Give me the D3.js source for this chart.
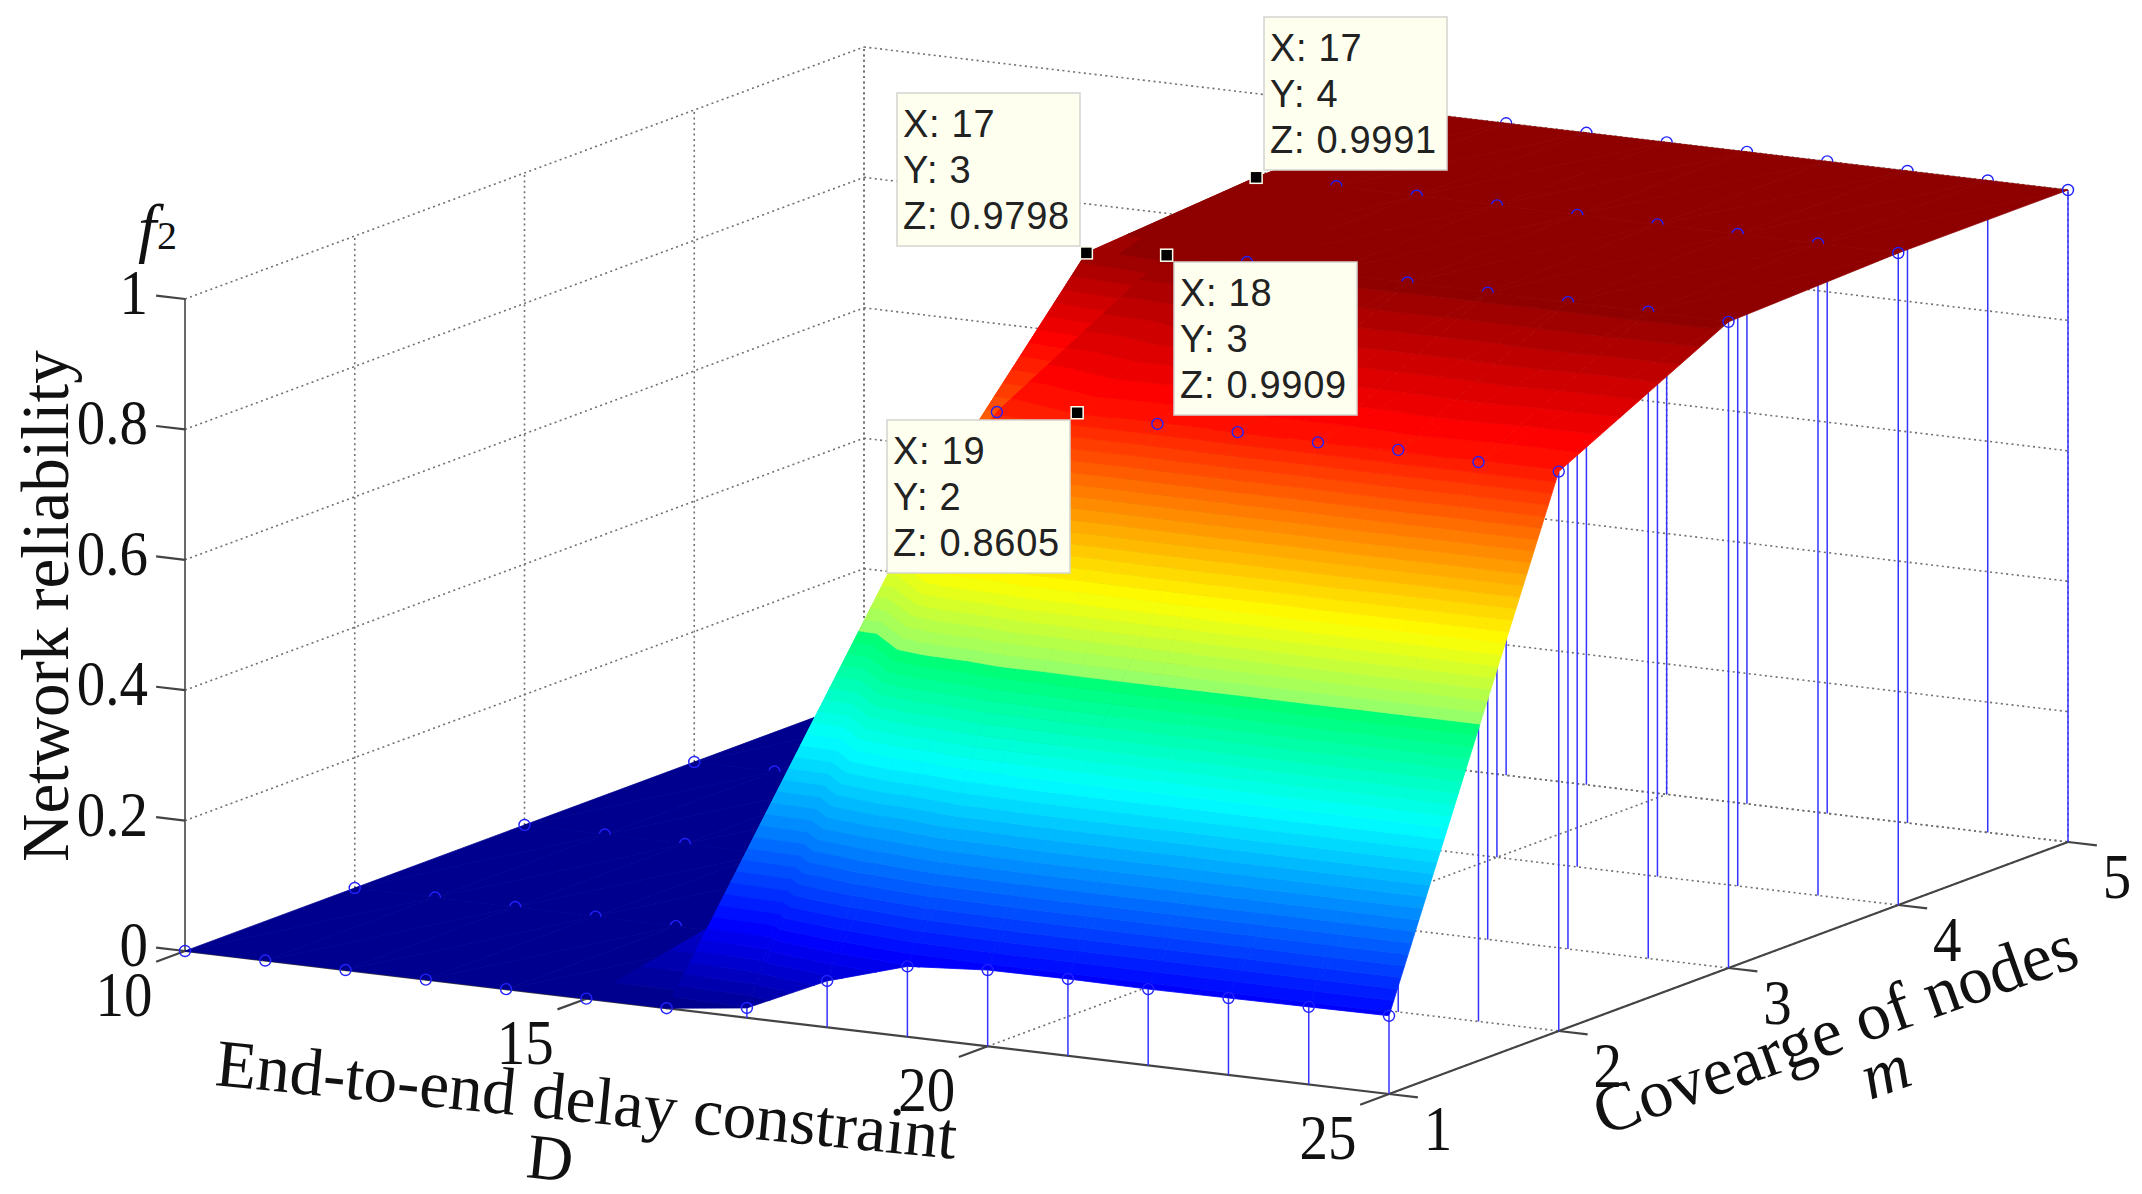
<!DOCTYPE html>
<html lang="en">
<head>
    <meta charset="UTF-8">
    <script src="https://d3js.org/d3.v7.min.js"></script>
    <title>Network reliability surface</title>
    <style>
        body { margin: 0; background: white; }
        text { font-family: "Liberation Serif", serif; fill: #111; }
        .tip text { font-family: "Liberation Sans", sans-serif; font-size: 38px; letter-spacing: 0.7px; fill: #222; }
    </style>
</head>
<body>
<div id="chart"></div>
<script>
    // data
    var delays = [10, 11, 12, 13, 14, 15, 16, 17, 18, 19, 20, 21, 22, 23, 24, 25];
    var coverages = [1, 2, 3, 4, 5];
    var rowM1 = [0, 0, 0, 0, 0, 0, 0, 0.015, 0.071, 0.108, 0.117, 0.118, 0.117, 0.118, 0.119, 0.12];
    var rowM2 = [0, 0, 0, 0, 0, 0, 0.14, 0.67, 0.847, 0.8605, 0.858, 0.86, 0.859, 0.862, 0.858, 0.858];
    var rowM3 = [0, 0, 0, 0, 0, 0.1, 0.55, 0.9798, 0.9909, 0.995, 0.994, 0.993, 0.992, 0.992, 0.992, 0.991];
    var rowM4 = [0, 0, 0, 0, 0.05, 0.4, 0.85, 0.9991, 1, 1, 1, 1, 1, 1, 1, 1];
    var rowM5 = [0, 0, 0, 0, 0.1, 0.5, 0.9, 1, 1, 1, 1, 1, 1, 1, 1, 1];
    var rows = [rowM1, rowM2, rowM3, rowM4, rowM5];

    var xTicks = [10, 15, 20, 25];
    var yTicks = [1, 2, 3, 4, 5];
    var zTicks = [0, 0.2, 0.4, 0.6, 0.8, 1];

    var tipX = [17, 17, 18, 19];
    var tipY = [4, 3, 3, 2];
    var tipZ = [0.9991, 0.9798, 0.9909, 0.8605];
    var tipBoxLeft = [1264, 897, 1174, 887];
    var tipBoxTop = [17, 93, 262, 420];

    var width = 2142, height = 1194;
    var originX = 185, originY = 951;

    // oblique 3d projection, one linear scale per screen contribution
    var xToLeft = d3.scaleLinear().domain([10, 25]).range([0, 1204]);
    var xToTop = d3.scaleLinear().domain([10, 25]).range([0, 143]);
    var yToLeft = d3.scaleLinear().domain([1, 5]).range([0, 679]);
    var yToTop = d3.scaleLinear().domain([1, 5]).range([0, -252]);
    var zToTop = d3.scaleLinear().domain([0, 1]).range([0, -652]);

    function project(x, y, z) {
        return [originX + xToLeft(x) + yToLeft(y), originY + xToTop(x) + yToTop(y) + zToTop(z)];
    }

    // the figure's colormap: jet, but red stays off until the green band
    function bandColor(i) {
        var t = (i + 1) / 65;
        var r = t < 0.52 ? 0 : 1.5 - Math.abs(4 * t - 3);
        var g = 1.5 - Math.abs(4 * t - 2);
        var b = 1.5 - Math.abs(4 * t - 1);
        return d3.rgb(255 * Math.min(1, Math.max(0, r)), 255 * Math.min(1, Math.max(0, g)), 255 * Math.min(1, Math.max(0, b))).formatHex();
    }
    var bandCount = 64;
    var bands = d3.range(bandCount).map(bandColor);
    var colorScale = d3.scaleQuantize().domain([0, 1]).range(bands);

    var svg = d3.select("#chart").append("svg")
        .attr("width", width)
        .attr("height", height);

    var lineGen = d3.line();

    function seg(g, a, b) {
        return g.append("path").attr("d", lineGen([project(a[0], a[1], a[2]), project(b[0], b[1], b[2])]));
    }

    // dotted box grid
    var grid = svg.append("g")
        .attr("fill", "none")
        .attr("stroke", "#707070")
        .attr("stroke-width", 1.6)
        .attr("stroke-dasharray", "2 3.4");
    zTicks.forEach(function (z) {
        if (z > 0) seg(grid, [10, 1, z], [10, 5, z]);
        seg(grid, [10, 5, z], [25, 5, z]);
    });
    yTicks.forEach(function (y) {
        if (y > 1) {
            seg(grid, [10, y, 0], [10, y, 1]);
            seg(grid, [10, y, 0], [25, y, 0]);
        }
    });
    xTicks.forEach(function (x) {
        seg(grid, [x, 5, 0], [x, 5, 1]);
        if (x > 10) seg(grid, [x, 1, 0], [x, 5, 0]);
    });

    // solid axes and ticks
    var axes = svg.append("g")
        .attr("fill", "none")
        .attr("stroke", "#444")
        .attr("stroke-width", 2.2);
    seg(axes, [10, 1, 0], [10, 1, 1]).attr("stroke-width", 1.6);
    seg(axes, [10, 1, 0], [25, 1, 0]);
    seg(axes, [25, 1, 0], [25, 5, 0]);
    xTicks.forEach(function (x) { seg(axes, [x, 1, 0], [x, 0.83, 0]); });
    yTicks.forEach(function (y) { seg(axes, [25, y, 0], [25.36, y, 0]); });
    zTicks.forEach(function (z) { seg(axes, [10, 1, z], [9.64, 1, z]); });

    // keep the part of a polygon on one side of a height
    function clipAt(poly, limit, sign) {
        var out = [];
        poly.forEach(function (p, k) {
            var q = poly[(k + 1) % poly.length];
            var dp = sign * (limit - p[2]), dq = sign * (limit - q[2]);
            if (dp >= 0) out.push(p);
            if ((dp > 0 && dq < 0) || (dp < 0 && dq > 0)) {
                var s = dp / (dp - dq);
                out.push([p[0] + s * (q[0] - p[0]), p[1] + s * (q[1] - p[1]), p[2] + s * (q[2] - p[2])]);
            }
        });
        return out;
    }

    var surface = svg.append("g");

    function drawTriangle(tri) {
        var low = d3.min(tri, function (p) { return p[2]; });
        var high = d3.max(tri, function (p) { return p[2]; });
        var first = Math.min(bandCount - 1, Math.floor(low * bandCount));
        var last = Math.min(bandCount - 1, Math.floor(high * bandCount));
        for (var b = first; b <= last; b++) {
            var poly = tri;
            if (b < bandCount - 1) poly = clipAt(poly, (b + 1) / bandCount, 1);
            poly = clipAt(poly, b / bandCount, -1);
            if (poly.length < 3) continue;
            var color = colorScale((b + 0.5) / bandCount);
            surface.append("path")
                .attr("d", lineGen(poly.map(function (p) { return project(p[0], p[1], p[2]); })) + "Z")
                .attr("fill", color)
                .attr("stroke", color)
                .attr("stroke-width", 0.8)
                .attr("stroke-linejoin", "round");
        }
    }

    function drawCircle(g, p) {
        g.append("circle")
            .attr("cx", p[0])
            .attr("cy", p[1])
            .attr("r", 5.5)
            .attr("fill", "none")
            .attr("stroke", "#2222ff")
            .attr("stroke-width", 1.4);
    }

    // back to front: far rows first, each followed by its own stems
    var raised = [];
    for (var j = coverages.length - 1; j >= 0; j--) {
        if (j < coverages.length - 1) {
            for (var i = 0; i < delays.length - 1; i++) {
                var a = [delays[i], coverages[j], rows[j][i]];
                var b = [delays[i + 1], coverages[j], rows[j][i + 1]];
                var c = [delays[i + 1], coverages[j + 1], rows[j + 1][i + 1]];
                var d = [delays[i], coverages[j + 1], rows[j + 1][i]];
                drawTriangle([a, c, d]);
                drawTriangle([a, b, c]);
            }
        }
        rows[j].forEach(function (z, k) {
            var top = project(delays[k], coverages[j], z);
            var bottom = project(delays[k], coverages[j], 0);
            if (z > 0) {
                surface.append("path")
                    .attr("d", lineGen([top, bottom]))
                    .attr("stroke", "#3434ff")
                    .attr("stroke-width", 1.5);
            }
            // circles on an edge or on the crest of the steep slope are not cut by nearer cells
            var onEdge = k === delays.length - 1 || (k === 0 && j < coverages.length - 1);
            var onCrest = j === 1 && z - rows[0][k] > 0.3;
            if (onEdge || onCrest) raised.push(top);
            else drawCircle(surface, top);
        });
    }
    raised.forEach(function (p) { drawCircle(surface, p); });

    // tick labels, the figure's digits are a little stretched upward
    var labels = svg.append("g").attr("font-size", 57);
    function tickLabel(x, y, anchor, str) {
        labels.append("text")
            .attr("transform", "translate(" + x + "," + y + ") scale(1,1.12)")
            .attr("text-anchor", anchor)
            .text(str);
    }
    zTicks.forEach(function (z) {
        var p = project(10, 1, z);
        tickLabel(p[0] - 37, p[1] + 15, "end", z);
    });
    xTicks.forEach(function (x) {
        var p = project(x, 1, 0);
        tickLabel(p[0] - 61, p[1] + 65, "middle", x);
    });
    yTicks.forEach(function (y) {
        var p = project(25, y, 0);
        tickLabel(p[0] + 49, p[1] + 56, "middle", y);
    });

    // axis titles
    function title(x, y, angle, size, str) {
        return svg.append("text")
            .attr("transform", "translate(" + x + "," + y + ") rotate(" + angle + ")")
            .attr("font-size", size)
            .text(str);
    }
    title(68, 862, -90, 67, "Network reliability");
    title(214, 1085, 5.7, 67, "End-to-end delay constraint");
    title(525, 1177, 6, 64, "D");
    title(1603, 1136, -19.6, 68, "Covearge of nodes");
    title(1870, 1100, -19.6, 66, "m").attr("font-style", "italic");
    title(138, 250, 0, 66, "f").attr("font-style", "italic");
    title(157, 249, 0, 40, "2");

    // data tips
    var tips = svg.append("g").attr("class", "tip");
    tipX.forEach(function (x, k) {
        var p = project(x, tipY[k], tipZ[k]);
        tips.append("rect")
            .attr("x", p[0] - 6)
            .attr("y", p[1] - 6)
            .attr("width", 12)
            .attr("height", 12)
            .attr("fill", "black")
            .attr("stroke", "#fffff0")
            .attr("stroke-width", 1.5);
    });
    tipX.forEach(function (x, k) {
        var g = tips.append("g")
            .attr("transform", "translate(" + tipBoxLeft[k] + "," + tipBoxTop[k] + ")");
        g.append("rect")
            .attr("width", 183)
            .attr("height", 153)
            .attr("fill", "#fffff0")
            .attr("stroke", "#d4d4d0")
            .attr("stroke-width", 1.5);
        ["X: " + x, "Y: " + tipY[k], "Z: " + tipZ[k]].forEach(function (str, n) {
            g.append("text")
                .attr("x", 6)
                .attr("y", 44 + 46 * n)
                .text(str);
        });
    });
</script>
</body>
</html>
